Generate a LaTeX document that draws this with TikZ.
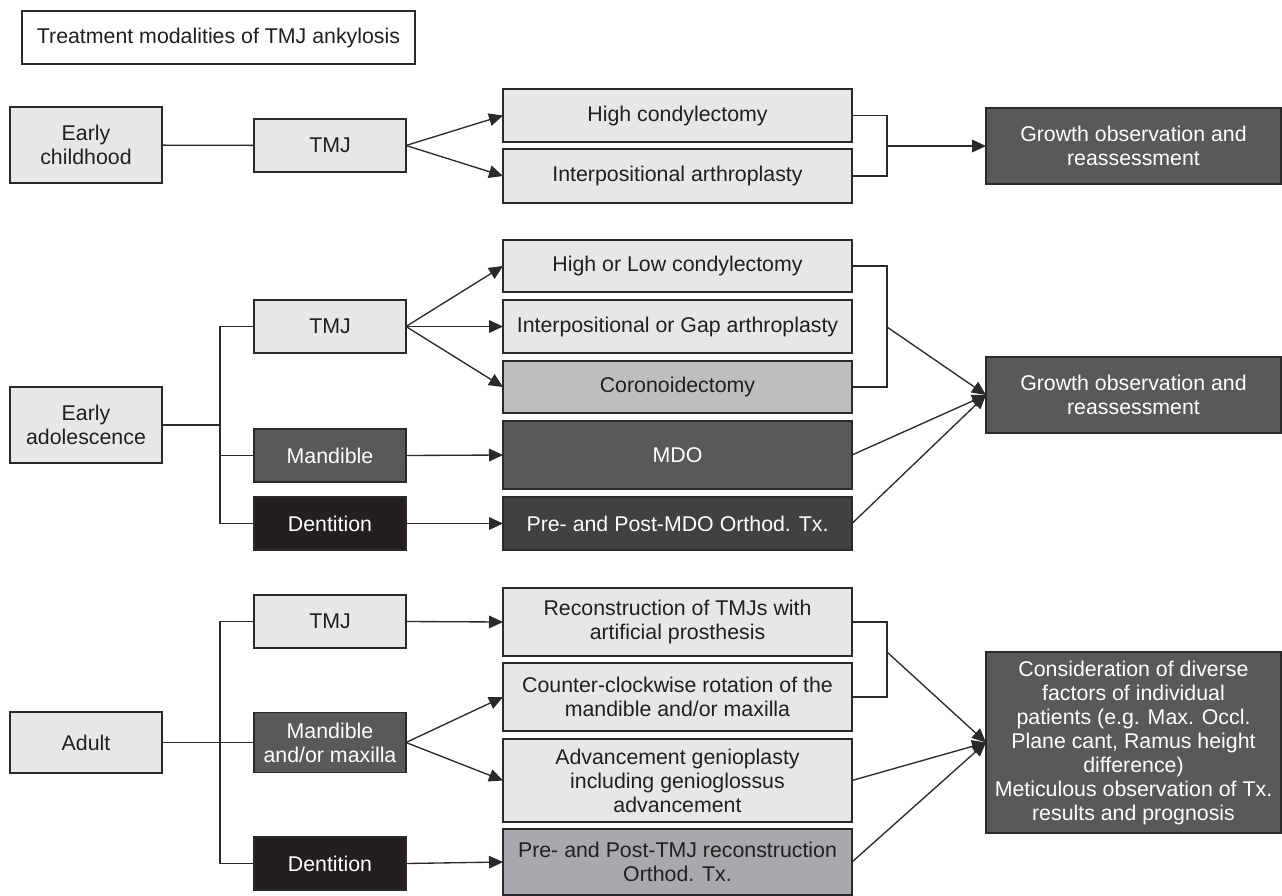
\documentclass[tikz,border=0pt]{standalone}
\usepackage{fontspec}
\setmainfont{Liberation Sans}
\usetikzlibrary{arrows.meta}
\definecolor{cLight}{HTML}{E6E7E8}
\definecolor{cMid}{HTML}{BCBEC0}
\definecolor{cGray}{HTML}{A7A9AC}
\definecolor{cDark}{HTML}{58595B}
\definecolor{cDarker}{HTML}{414042}
\definecolor{cBlack}{HTML}{231F20}
\definecolor{cLine}{HTML}{2A2A2A}
\definecolor{cText}{HTML}{231F20}
\begin{document}
\begin{tikzpicture}[x=0.75pt,y=-0.75pt,
  box/.style={draw=cLine,line width=1.2pt,rectangle,inner sep=2pt,outer sep=0pt,align=center,
    font=\fontsize{16}{18}\selectfont,text=cText},
  lbox/.style={box,fill=cLight},
  wbox/.style={box,fill=white},
  mbox/.style={box,fill=cMid},
  gbox/.style={box,fill=cGray},
  dbox/.style={box,fill=cDark,text=white},
  ddbox/.style={box,fill=cDarker,text=white},
  bbox/.style={box,fill=cBlack,text=white},
  left/.style={minimum width=114pt},
  mid/.style={minimum width=114pt},
  wide/.style={minimum width=261.75pt},
  res/.style={minimum width=221.25pt},
  conn/.style={draw=cLine,line width=1pt},
  arr/.style={conn,-{Triangle[length=10.5pt,width=9.5pt]}}
]
\useasboundingbox (0,0) rectangle (1282,896);
\fill[white] (0,0) rectangle (1282,896);

% title
\node[wbox,minimum width=294.75pt,minimum height=39.75pt] (title) at (218.5,37.5) {Treatment modalities of TMJ ankylosis};

% row 1
\node[lbox,left,minimum height=57pt] (ec) at (86,145) {Early\\childhood};
\node[lbox,mid,minimum height=39.75pt] (tmja) at (330,145.5) {TMJ};
\node[lbox,wide,minimum height=39.75pt] (hc) at (677.5,115.5) {High condylectomy};
\node[lbox,wide,minimum height=40.5pt] (ia) at (677.5,176) {Interpositional arthroplasty};
\node[dbox,res,minimum height=57pt] (ga) at (1133.5,146) {Growth observation and\\reassessment};

\draw[conn] (ec) -- (tmja);
\draw[arr] (tmja.east) -- (hc.west);
\draw[arr] (tmja.east) -- (ia.west);
\draw[conn] (hc.east) -- ++(35,0) |- (ia.east);
\coordinate (ba) at (887,146);
\draw[arr] (ba) -- (ga.west);

% row 2
\node[lbox,left,minimum height=57pt] (ea) at (86,425) {Early\\adolescence};
\node[lbox,mid,minimum height=39.75pt] (tmjb) at (330,326.5) {TMJ};
\node[dbox,mid,minimum height=39.75pt] (mandb) at (330,455.5) {Mandible};
\node[bbox,mid,minimum height=39.75pt] (dentb) at (330,523.5) {Dentition};
\node[lbox,wide,minimum height=39pt] (hl) at (677.5,266) {High or Low condylectomy};
\node[lbox,wide,minimum height=39.75pt] (ig) at (677.5,326.5) {Interpositional or Gap arthroplasty};
\node[mbox,wide,minimum height=39pt] (cor) at (677.5,387) {Coronoidectomy};
\node[dbox,wide,minimum height=51pt] (mdo) at (677.5,455) {MDO};
\node[ddbox,wide,minimum height=39.75pt] (pmdo) at (677.5,523.5) {Pre- and Post-MDO Orthod. Tx.};
\node[dbox,res,minimum height=57pt] (gb) at (1133.5,395) {Growth observation and\\reassessment};

\coordinate (tb) at (220,425);
\draw[conn] (ea.east) -- (tb);
\draw[conn] (tmjb.west) -| (tb) |- (dentb.west);
\draw[conn] (mandb.west) -- (mandb.west -| tb);
\draw[arr] (tmjb.east) -- (hl.west);
\draw[arr] (tmjb.east) -- (ig.west);
\draw[arr] (tmjb.east) -- (cor.west);
\draw[arr] (mandb.east) -- (mdo.west);
\draw[arr] (dentb.east) -- (pmdo.west);
\draw[conn] (hl.east) -- ++(35,0) |- (cor.east);
\coordinate (bb) at (887,327);
\draw[arr] (bb) -- (gb.west);
\draw[arr] (mdo.east) -- (gb.west);
\draw[arr] (pmdo.east) -- (gb.west);

% row 3
\node[lbox,left,minimum height=45.75pt] (ad) at (86,742.5) {Adult};
\node[lbox,mid,minimum height=39.75pt] (tmjc) at (330,621.5) {TMJ};
\node[dbox,mid,minimum height=45pt] (mm) at (330,742.5) {Mandible\\and/or maxilla};
\node[bbox,mid,minimum height=39.75pt] (dentc) at (330,863.5) {Dentition};
\node[lbox,wide,minimum height=51pt] (rec) at (677.5,622) {Reconstruction of TMJs with\\artificial prosthesis};
\node[lbox,wide,minimum height=51pt] (ccw) at (677.5,697) {Counter-clockwise rotation of the\\mandible and/or maxilla};
\node[lbox,wide,minimum height=62.25pt] (adv) at (677.5,780.5) {Advancement genioplasty\\including genioglossus\\advancement};
\node[gbox,wide,minimum height=49.5pt] (ptmj) at (677.5,862) {Pre- and Post-TMJ reconstruction\\Orthod. Tx.};
\node[dbox,res,minimum height=135.75pt] (cons) at (1133.5,742.5) {Consideration of diverse\\factors of individual\\patients (e.g. Max. Occl.\\Plane cant, Ramus height\\difference)\\Meticulous observation of Tx.\\results and prognosis};

\coordinate (tc) at (220,742.5);
\draw[conn] (ad.east) -- (mm.west);
\draw[conn] (tmjc.west) -| (tc) |- (dentc.west);
\draw[arr] (tmjc.east) -- (rec.west);
\draw[arr] (mm.east) -- (ccw.west);
\draw[arr] (mm.east) -- (adv.west);
\draw[arr] (dentc.east) -- (ptmj.west);
\draw[conn] (rec.east) -- ++(35,0) |- (ccw.east);
\coordinate (bc) at (887,652);
\draw[arr] (bc) -- (cons.west);
\draw[arr] (adv.east) -- (cons.west);
\draw[arr] (ptmj.east) -- (cons.west);
\end{tikzpicture}
\end{document}
